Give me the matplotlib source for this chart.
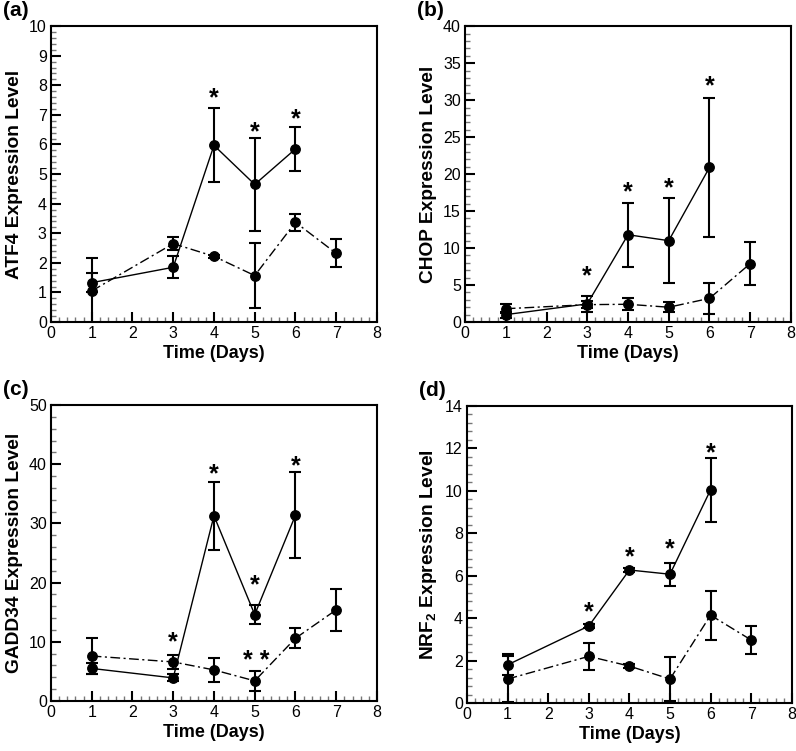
import numpy as np
import matplotlib; matplotlib.use("Agg")
import matplotlib.pyplot as plt
from matplotlib.ticker import MultipleLocator, AutoMinorLocator
from matplotlib.transforms import offset_copy

plt.rcParams.update({"font.family": "Liberation Sans", "font.size": 10,
                     "mathtext.default": "regular"})

# data (mean, symmetric error)
days_s = [1, 3, 4, 5, 6]
days_d = [1, 3, 4, 5, 6, 7]

atf4_s = [1.33, 1.85, 5.97, 4.65, 5.85]
atf4_s_err = [0.33, 0.37, 1.25, 1.56, 0.75]
atf4_d = [1.05, 2.65, 2.22, 1.57, 3.37, 2.32]
atf4_d_err = [1.1, 0.23, 0.06, 1.1, 0.28, 0.47]
atf4_star_x = [4, 5, 6]
atf4_star_y = [7.78, 6.65, 7.1]

chop_s = [1.0, 2.45, 11.8, 11.0, 20.9]
chop_s_err = [0.4, 1.05, 4.3, 5.7, 9.4]
chop_d = [1.8, 2.35, 2.4, 2.0, 3.2, 7.9]
chop_d_err = [0.6, 0.5, 0.8, 0.65, 2.05, 2.95]
chop_star_x = [3, 4, 5, 6]
chop_star_y = [7.15, 18.5, 19.05, 32.8]

gadd_s = [5.5, 3.9, 31.3, 14.6, 31.4]
gadd_s_err = [0.9, 0.6, 5.75, 1.55, 7.3]
gadd_d = [7.6, 6.6, 5.25, 3.4, 10.6, 15.4]
gadd_d_err = [3.1, 1.2, 2.05, 1.65, 1.7, 3.6]
gadd_star_x = [3, 4, 5, 6]
gadd_star_y = [11.15, 39.5, 20.7, 40.9]
gadd_dstar_x = [5.03]
gadd_dstar_y = [7.9]

nrf_s = [1.8, 3.63, 6.27, 6.07, 10.05]
nrf_s_err = [0.5, 0.08, 0.08, 0.55, 1.5]
nrf_d = [1.13, 2.2, 1.74, 1.13, 4.14, 2.97]
nrf_d_err = [1.07, 0.64, 0.1, 1.02, 1.15, 0.68]
nrf_star_x = [3, 4, 5, 6]
nrf_star_y = [4.6, 7.2, 7.55, 12.1]

panels = [
    ("(a)", "ATF4 Expression Level", 10, 1, atf4_s, atf4_s_err, atf4_d, atf4_d_err,
     atf4_star_x, atf4_star_y, [], [], [0.064, 0.5712, 0.4096, 0.394]),
    ("(b)", "CHOP Expression Level", 40, 5, chop_s, chop_s_err, chop_d, chop_d_err,
     chop_star_x, chop_star_y, [], [], [0.5842, 0.5712, 0.4095, 0.394]),
    ("(c)", "GADD34 Expression Level", 50, 10, gadd_s, gadd_s_err, gadd_d, gadd_d_err,
     gadd_star_x, gadd_star_y, gadd_dstar_x, gadd_dstar_y, [0.064, 0.0666, 0.4096, 0.394]),
    ("(d)", "NRF$_2$ Expression Level", 14, 2, nrf_s, nrf_s_err, nrf_d, nrf_d_err,
     nrf_star_x, nrf_star_y, [], [], [0.5867, 0.0639, 0.408, 0.3955]),
]

fig = plt.figure(figsize=(7.96, 7.51), dpi=100, facecolor="white")
for (tag, ylab, ymax, ystep, ms, mse, md, mde, sx, sy, dsx, dsy, pos) in panels:
    ax = fig.add_axes(pos)
    eb = dict(fmt="o", color="k", ms=6.8, lw=1.0, elinewidth=1.5, capsize=4, capthick=1.5)
    ax.errorbar(days_s, ms, yerr=mse, ls="-", **eb)
    ax.errorbar(days_d, md, yerr=mde, ls=(0, (7, 2.5, 1.5, 2.5)), **eb)
    tr = offset_copy(ax.transData, fig=fig, x=0, y=-5, units="points")
    for x, y in zip(sx, sy):
        ax.text(x, y, "*", transform=tr, ha="center", va="center", fontsize=18, fontweight="bold")
    for x, y in zip(dsx, dsy):
        ax.text(x, y, "* *", transform=tr, ha="center", va="center", fontsize=18, fontweight="bold")
    ax.set_xlim(0, 8); ax.set_ylim(0, ymax)
    ax.xaxis.set_major_locator(MultipleLocator(1))
    ax.yaxis.set_major_locator(MultipleLocator(ystep))
    ax.xaxis.set_minor_locator(AutoMinorLocator(5))
    ax.yaxis.set_minor_locator(AutoMinorLocator(5))
    ax.tick_params(which="both", direction="in", top=False, right=False, labelsize=11.5, pad=3)
    ax.tick_params(which="major", length=7, width=1.5)
    ax.tick_params(which="minor", length=3.5, width=1, color="#777777")
    for s in ax.spines.values():
        s.set_linewidth(1.5)
    ax.set_xlabel("Time (Days)", fontsize=13, fontweight="bold", labelpad=3)
    ax.set_ylabel(ylab, fontsize=13.8, fontweight="bold", labelpad=4)
    ax.text(-0.148, 1.02, tag, transform=ax.transAxes, fontsize=15, fontweight="bold",
            ha="left", va="bottom")

fig.savefig("out.png", dpi=100, facecolor="white")
